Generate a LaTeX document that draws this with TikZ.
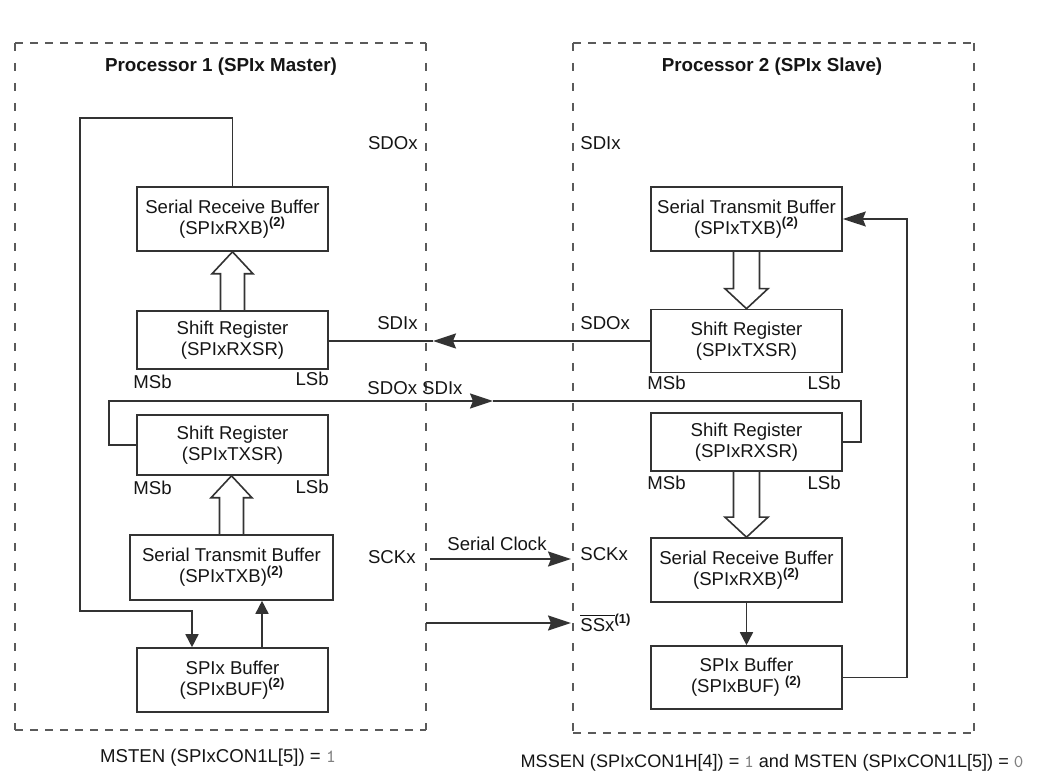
\documentclass[tikz,border=0pt]{standalone}
\usepackage{fontspec}
\setmainfont{Liberation Sans}
\usetikzlibrary{arrows.meta,calc}
\definecolor{ln}{HTML}{333333}
\definecolor{dsh}{HTML}{5A5A5A}
\definecolor{txt}{HTML}{151515}
\newcommand\hollowup[2]{\draw[hollow] let \p1=(#1.north), \p2=(#2.south) in
  (\x1-6pt,\y1) -- (\x1-6pt,\y2-11pt) -- (\x1-10.25pt,\y2-11pt) -- (\x1,\y2)
  -- (\x1+10.25pt,\y2-11pt) -- (\x1+6pt,\y2-11pt) -- (\x1+6pt,\y1);}
\newcommand\hollowdown[2]{\draw[hollow] let \p1=(#1.south), \p2=(#2.north) in
  (\x1-6.5pt,\y1) -- (\x1-6.5pt,\y2+10pt) -- (\x1-10.75pt,\y2+10pt) -- (\x1,\y2)
  -- (\x1+10.75pt,\y2+10pt) -- (\x1+6.5pt,\y2+10pt) -- (\x1+6.5pt,\y1);}
\newcommand\suptwo{\textsuperscript{\textbf{(2)}}}
\begin{document}
\begin{tikzpicture}[x=0.5pt,y=-0.5pt,
  every node/.style={font=\fontsize{9.3}{10.6}\selectfont, text=txt},
  box/.style={draw=ln, line width=0.8pt, align=center, minimum width=95.5pt, inner sep=1pt},
  conn/.style={draw=ln, line width=0.8pt},
  hollow/.style={draw=ln, line width=0.8pt, line join=miter},
  bigtip/.tip={Stealth[length=11.5pt,width=7.5pt,inset=1.5pt]},
  smtip/.tip={Triangle[length=6.5pt,width=6.5pt]},
  lbl/.style={inner sep=0pt},
  ttl/.style={font=\fontsize{9.4}{11}\selectfont\bfseries},
  hd/.style={dash pattern=on 4pt off 3.5pt, draw=dsh, line width=0.75pt},
  vd/.style={dash pattern=on 4pt off 6pt, draw=dsh, line width=0.75pt}]
\useasboundingbox (0,0) rectangle (1037,779);

% dashed frames
\draw[hd] (15,43) -- (426,43);
\draw[hd] (15,730) -- (426,730);
\draw[vd] (15,43) -- (15,730);
\draw[vd] (426,43) -- (426,730);
\draw[hd] (573,43) -- (974,43);
\draw[hd] (573,733) -- (974,733);
\draw[vd] (573,43) -- (573,733);
\draw[vd] (974,43) -- (974,733);

% titles
\node[ttl] (t1) at (221,67) {Processor 1 (SPIx Master)};
\node[ttl] (t2) at (772,67) {Processor 2 (SPIx Slave)};

% master boxes
\node[box, minimum height=32pt] (rxb) at (232.5,219) {Serial Receive Buffer\\(SPIxRXB)\suptwo};
\node[box, minimum height=29pt] (rxsr) at (232.5,340) {Shift Register\\(SPIxRXSR)};
\node[box, minimum height=30pt] (txsr) at (232.5,445) {Shift Register\\(SPIxTXSR)};
\node[box, minimum height=32.5pt, minimum width=101.5pt] (txb) at (231.5,567.5) {Serial Transmit Buffer\\(SPIxTXB)\suptwo};
\node[box, minimum height=32pt] (buf) at (232.5,680) {SPIx Buffer\\(SPIxBUF)\suptwo};

% slave boxes
\node[box, minimum height=32pt] (stxb) at (746.5,219) {Serial Transmit Buffer\\(SPIxTXB)\suptwo};
\node[box, minimum height=31.5pt] (stxsr) at (746.5,341) {Shift Register\\(SPIxTXSR)};
\node[box, minimum height=29pt] (srxsr) at (746.5,442) {Shift Register\\(SPIxRXSR)};
\node[box, minimum height=32pt] (srxb) at (746.5,570) {Serial Receive Buffer\\(SPIxRXB)\suptwo};
\node[box, minimum height=31.5pt] (sbuf) at (746.5,677.5) {SPIx Buffer\\(SPIxBUF) \suptwo};

% MSb / LSb
\node[lbl, anchor=west] (m1) at (133,382) {MSb};
\node[lbl, anchor=east] (l1) at (329,379) {LSb};
\node[lbl, anchor=west] (m2) at (133,488) {MSb};
\node[lbl, anchor=east] (l2) at (329,487) {LSb};
\node[lbl, anchor=west] (m3) at (647,383) {MSb};
\node[lbl, anchor=east] (l3) at (841,383) {LSb};
\node[lbl, anchor=west] (m4) at (647,483) {MSb};
\node[lbl, anchor=east] (l4) at (841,483) {LSb};

% pin labels
\node[lbl, anchor=east] (p1) at (418,143) {SDOx};
\node[lbl, anchor=east] (p2) at (418,323) {SDIx};
\node[lbl] (p3) at (415,388) {SDOx SDIx};
\node[lbl, anchor=east] (p4) at (416,557) {SCKx};
\node[lbl, anchor=west] (q1) at (580,143) {SDIx};
\node[lbl, anchor=west] (q2) at (580,323) {SDOx};
\node[lbl, anchor=west] (q3) at (580,554) {SCKx};
\node[lbl, anchor=west] (q4) at (580,623) {$\overline{\hbox{SSx}}$\textsuperscript{\textbf{(1)}}};
\node[lbl] (sc) at (497,544) {Serial Clock};

% hollow arrows
\hollowup{rxsr}{rxb}
\hollowup{txb}{txsr}
\hollowdown{stxb}{stxsr}
\hollowdown{srxsr}{srxb}

% master loop RXB -> BUF
\coordinate (loopA) at (80,118);
\coordinate (loopB) at (192,611);
\draw[conn,-{smtip}] (rxb.north) |- (loopA) |- (loopB) -- (buf.north -| loopB);
% BUF -> TXB
\coordinate (bx) at (262,0);
\draw[conn,-{smtip}] (buf.north -| bx) -- (txb.south -| bx);

% SDO (slave) -> SDI (master)
\coordinate (tipA) at (433,341);
\draw[conn,-{bigtip}] (stxsr.west) -- (tipA);
\draw[conn] (tipA) -- (rxsr.east |- tipA);

% SDO (master) -> SDI (slave)
\coordinate (ta) at (109,401);
\coordinate (tip2) at (493,401);
\coordinate (tb) at (861,401);
\draw[conn,-{bigtip}] (txsr.west) -| (ta) -- (tip2);
\draw[conn] (tip2) -- (tb) |- (srxsr.east);

% serial clock
\coordinate (sck1) at (430,559);
\coordinate (sck2) at (571,559);
\draw[conn,-{bigtip}] (sck1) -- (sck2);

% slave select
\coordinate (ss1) at (426,623);
\coordinate (ss2) at (571,623);
\draw[conn,-{bigtip}] (ss1) -- (ss2);

% slave RXB -> BUF
\draw[conn,-{smtip}] (srxb.south) -- (sbuf.north);
% slave BUF -> TXB
\coordinate (rr) at (907,219);
\draw[conn,-{bigtip}] (sbuf.east) -| (rr) -- (stxb.east);

% footers
\node (f1) at (218,758) {MSTEN (SPIxCON1L[5]) = {\color{gray}\ttfamily 1}};
\node[font=\fontsize{9.05}{10.6}\selectfont] (f2) at (772,763) {MSSEN (SPIxCON1H[4]) = {\color{gray}\ttfamily 1} and MSTEN (SPIxCON1L[5]) = {\color{gray}\ttfamily 0}};
\end{tikzpicture}
\end{document}
